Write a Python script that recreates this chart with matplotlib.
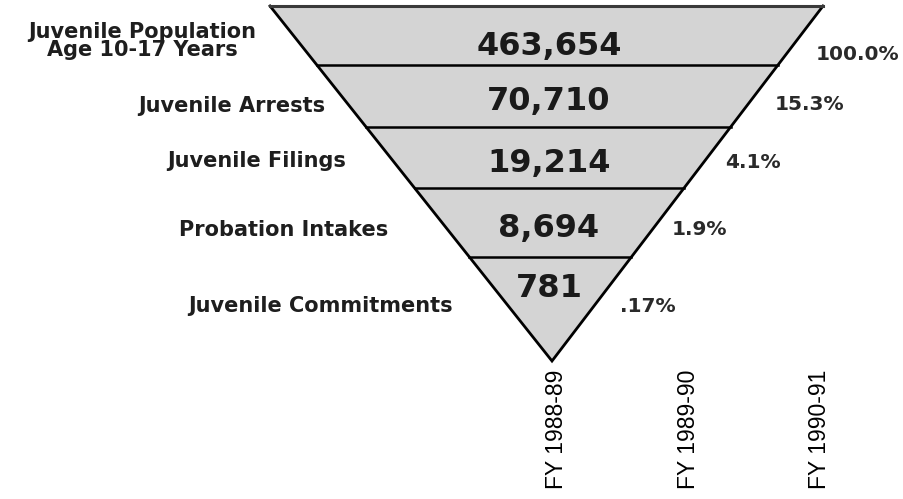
import matplotlib
matplotlib.use('Agg')
import matplotlib.pyplot as plt
from matplotlib.patches import Polygon

# funnel stages, counts for FY 1988-89
stages = ['Juvenile Population\nAge 10-17 Years', 'Juvenile Arrests', 'Juvenile Filings',
          'Probation Intakes', 'Juvenile Commitments']
counts = [463654, 70710, 19214, 8694, 781]
years = ['FY 1988-89', 'FY 1989-90', 'FY 1990-91']


def fmt_share(n):
    pct = 100.0 * n / counts[0]
    if pct >= 1:
        return '{:.1f}%'.format(pct)
    return '{:.2f}%'.format(pct).lstrip('0')


shares = [fmt_share(n) for n in counts]

# layout, measured in pixels from the top-left of the picture
X0, STEP = 557, 131.5          # pixel x of first year, pixels per year
band_edges = [6, 65, 127, 188, 257, 361]
top_left, top_right, apex_x = 270, 823, 552
label_x = [142, 325, 346, 388, 453]
label_y = [56, 112, 167, 236, 312]
value_y = [55, 110, 172, 237, 297]
share_x = [816, 775, 725, 672, 620]
share_y = [60, 110, 168, 235, 312]


def px(x):
    return (x - X0) / STEP


def left_edge(y):
    return px(top_left + (apex_x - top_left) * (y - band_edges[0]) / (band_edges[-1] - band_edges[0]))


def right_edge(y):
    return px(top_right + (apex_x - top_right) * (y - band_edges[0]) / (band_edges[-1] - band_edges[0]))


fig = plt.figure(figsize=(9.04, 4.99), dpi=100)
ax = fig.add_axes([0, 134 / 499, 1, 365 / 499])
ax.set_xlim(px(0), px(904))
ax.set_ylim(365, 0)

top, bottom = band_edges[0], band_edges[-1]
tri = Polygon([(left_edge(top), top), (right_edge(top), top), (px(apex_x), bottom)],
              closed=True, facecolor='#d4d4d4', edgecolor='none', zorder=1)
ax.add_patch(tri)

# sides and separators
ax.plot([left_edge(top), px(apex_x), right_edge(top)], [top, bottom, top],
        color='black', lw=2.0, solid_joinstyle='miter', zorder=3)
ax.plot([left_edge(top), right_edge(top)], [top, top], color='#3a3a3a', lw=2.2, zorder=3)
for y in band_edges[1:-1]:
    ax.plot([left_edge(y), right_edge(y)], [y, y], color='black', lw=1.8, zorder=3)

for i, stage in enumerate(stages):
    ax.text(px(label_x[i]), label_y[i], stage, ha='center' if i == 0 else 'right',
            va='baseline', fontsize=15, fontweight='bold', family='DejaVu Sans',
            color='#1e1e1e', linespacing=0.85)
    ax.text(px(549), value_y[i], '{:,}'.format(counts[i]), ha='center', va='baseline',
            fontsize=23, fontweight='bold', family='DejaVu Sans', color='#1a1a1a', zorder=4)
    ax.text(px(share_x[i]), share_y[i], shares[i], ha='left', va='baseline',
            fontsize=14.5, fontweight='bold', family='DejaVu Sans', color='#2a2a2a')

ax.set_xticks(range(len(years)))
ax.set_xticklabels(years, rotation=90, fontsize=16.5, family='Liberation Sans')
ax.tick_params(axis='x', length=0, pad=3)
ax.set_yticks([])
for s in ax.spines.values():
    s.set_visible(False)

fig.savefig('out.png', dpi=100, facecolor='white')
